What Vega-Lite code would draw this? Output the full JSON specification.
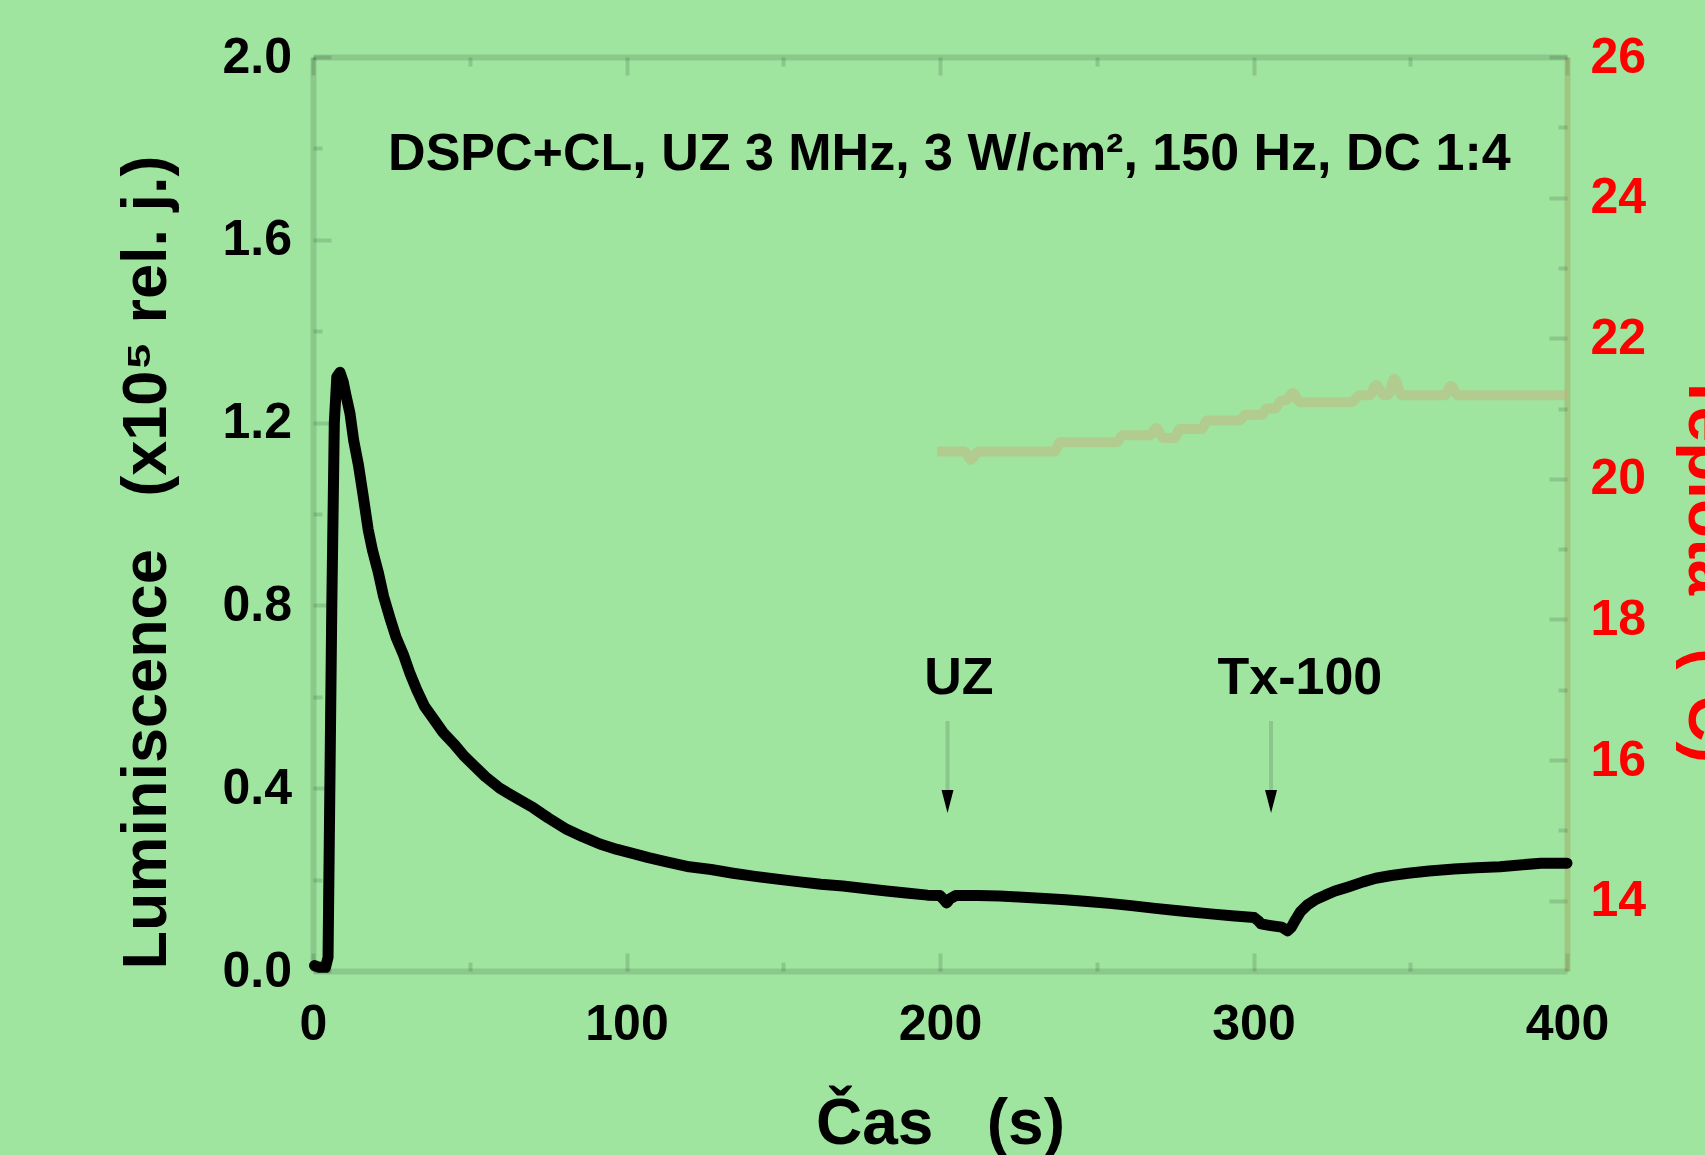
{
  "$schema": "https://vega.github.io/schema/vega-lite/v6.json",
  "autosize": "none",
  "width": 1254,
  "height": 914,
  "padding": {"left": 313, "top": 57, "right": 138, "bottom": 184},
  "background": "#9fe59f",
  "config": {
    "view": {"stroke": null},
    "font": "Liberation Sans",
    "axis": {
      "grid": false,
      "labelFont": "Liberation Sans",
      "labelFontWeight": "bold",
      "labelFontSize": 50,
      "labelColor": "#000000",
      "labelFlush": false,
      "labelOverlap": false,
      "titleFont": "Liberation Sans",
      "titleFontWeight": "bold",
      "titleFontSize": 63,
      "titleColor": "#000000",
      "domainColor": "#000000",
      "domainOpacity": 0.12,
      "domainWidth": 6,
      "tickColor": "#000000",
      "tickOpacity": 0.13,
      "tickWidth": 4
    }
  },
  "datasets": {
    "lum": [
      {"t": 0.5, "v": 0.012}, {"t": 2, "v": 0.008}, {"t": 4, "v": 0.008}, {"t": 4.8, "v": 0.03},
      {"t": 5.3, "v": 0.35}, {"t": 6.0, "v": 0.8}, {"t": 6.8, "v": 1.2}, {"t": 7.6, "v": 1.3},
      {"t": 8.6, "v": 1.31}, {"t": 9.6, "v": 1.29}, {"t": 10.5, "v": 1.26}, {"t": 11.8, "v": 1.22},
      {"t": 13, "v": 1.16}, {"t": 14.5, "v": 1.107}, {"t": 16, "v": 1.04}, {"t": 17.6, "v": 0.966},
      {"t": 19, "v": 0.92}, {"t": 20.8, "v": 0.873}, {"t": 22.5, "v": 0.82}, {"t": 24.6, "v": 0.771},
      {"t": 26.5, "v": 0.73}, {"t": 28.8, "v": 0.693}, {"t": 31, "v": 0.65}, {"t": 33.1, "v": 0.615},
      {"t": 35.5, "v": 0.58}, {"t": 38.4, "v": 0.552}, {"t": 41.5, "v": 0.522}, {"t": 44.8, "v": 0.498},
      {"t": 48, "v": 0.472}, {"t": 51.1, "v": 0.451}, {"t": 55, "v": 0.425}, {"t": 59.6, "v": 0.4},
      {"t": 65, "v": 0.378}, {"t": 70.3, "v": 0.357}, {"t": 75, "v": 0.335}, {"t": 80.9, "v": 0.31},
      {"t": 86, "v": 0.294}, {"t": 91.5, "v": 0.278}, {"t": 97, "v": 0.266}, {"t": 102.2, "v": 0.257},
      {"t": 107, "v": 0.248}, {"t": 112.8, "v": 0.239}, {"t": 120, "v": 0.228}, {"t": 127, "v": 0.222},
      {"t": 134, "v": 0.214}, {"t": 141, "v": 0.207}, {"t": 148, "v": 0.201}, {"t": 155.3, "v": 0.195},
      {"t": 162, "v": 0.19}, {"t": 169, "v": 0.186}, {"t": 176.6, "v": 0.18}, {"t": 183, "v": 0.175},
      {"t": 190, "v": 0.17}, {"t": 196, "v": 0.166}, {"t": 200, "v": 0.165}, {"t": 201, "v": 0.158},
      {"t": 202.1, "v": 0.149}, {"t": 203.2, "v": 0.158}, {"t": 205, "v": 0.165}, {"t": 212, "v": 0.165},
      {"t": 219, "v": 0.164}, {"t": 225, "v": 0.162}, {"t": 232, "v": 0.159}, {"t": 240, "v": 0.156},
      {"t": 247, "v": 0.152}, {"t": 254, "v": 0.148}, {"t": 261, "v": 0.143}, {"t": 268.7, "v": 0.137},
      {"t": 276, "v": 0.132}, {"t": 286.3, "v": 0.125}, {"t": 293, "v": 0.121}, {"t": 300.2, "v": 0.117},
      {"t": 301.5, "v": 0.11}, {"t": 302.4, "v": 0.103}, {"t": 305, "v": 0.1}, {"t": 309, "v": 0.096},
      {"t": 310.9, "v": 0.088}, {"t": 312, "v": 0.095}, {"t": 313.4, "v": 0.112}, {"t": 315, "v": 0.13},
      {"t": 317.1, "v": 0.144}, {"t": 320, "v": 0.157}, {"t": 322.9, "v": 0.166}, {"t": 326, "v": 0.175},
      {"t": 330.2, "v": 0.184}, {"t": 335, "v": 0.195}, {"t": 339, "v": 0.203}, {"t": 344, "v": 0.209},
      {"t": 349.3, "v": 0.214}, {"t": 356, "v": 0.219}, {"t": 364, "v": 0.223}, {"t": 371, "v": 0.226},
      {"t": 378.6, "v": 0.228}, {"t": 385, "v": 0.232}, {"t": 391.7, "v": 0.236}, {"t": 400, "v": 0.236}
    ],
    "temp": [
      {"t": 199.1, "c": 20.39}, {"t": 207.8, "c": 20.39}, {"t": 209.9, "c": 20.27}, {"t": 212.2, "c": 20.39},
      {"t": 236.5, "c": 20.39}, {"t": 238.3, "c": 20.52}, {"t": 256.5, "c": 20.52}, {"t": 258.2, "c": 20.62},
      {"t": 267, "c": 20.62}, {"t": 269, "c": 20.72}, {"t": 271.3, "c": 20.58}, {"t": 274.8, "c": 20.58},
      {"t": 276.5, "c": 20.71}, {"t": 283.5, "c": 20.71}, {"t": 285.2, "c": 20.83}, {"t": 295.7, "c": 20.83},
      {"t": 297.4, "c": 20.91}, {"t": 302.6, "c": 20.91}, {"t": 304.3, "c": 21.0}, {"t": 306.9, "c": 21.0},
      {"t": 308.7, "c": 21.11}, {"t": 310.5, "c": 21.12}, {"t": 312.5, "c": 21.22}, {"t": 314.8, "c": 21.09},
      {"t": 331.3, "c": 21.09}, {"t": 333.9, "c": 21.19}, {"t": 337, "c": 21.19}, {"t": 339.1, "c": 21.33},
      {"t": 341.7, "c": 21.19}, {"t": 343, "c": 21.2}, {"t": 344.9, "c": 21.42}, {"t": 347.3, "c": 21.19},
      {"t": 360.9, "c": 21.19}, {"t": 363, "c": 21.32}, {"t": 365.2, "c": 21.19}, {"t": 400, "c": 21.19}
    ],
    "notes": [
      {"t": 203, "v": 1.752, "label": "DSPC+CL, UZ 3 MHz, 3 W/cm², 150 Hz, DC 1:4"},
      {"t": 206, "v": 0.606, "label": "UZ"},
      {"t": 314.8, "v": 0.606, "label": "Tx-100"}
    ],
    "arrows": [
      {"t": 202.4, "v_top": 0.547, "v_bottom": 0.396, "v_head": 0.371},
      {"t": 305.6, "v_top": 0.547, "v_bottom": 0.396, "v_head": 0.371}
    ]
  },
  "resolve": {
    "scale": {"y": "independent"},
    "axis": {"x": "independent", "y": "independent"}
  },
  "layer": [
    {
      "data": {"name": "temp"},
      "mark": {"type": "line", "color": "#c4b47e", "opacity": 0.5, "strokeWidth": 10, "strokeCap": "butt", "strokeJoin": "round", "interpolate": "monotone"},
      "encoding": {
        "x": {"field": "t", "type": "quantitative", "scale": {"domain": [0, 400], "nice": false},
          "axis": {"orient": "top", "values": [0, 100, 200, 300, 400], "tickSize": -18, "labels": false, "title": null}},
        "y": {"field": "c", "type": "quantitative", "scale": {"domain": [13, 26], "nice": false, "zero": false},
          "axis": {"orient": "right", "values": [14, 16, 18, 20, 22, 24, 26], "format": "d", "tickSize": -18,
            "labelPadding": 41, "labelColor": "#ff0000", "labelAlign": "left",
            "domainColor": "#a08040", "domainOpacity": 0.3,
            "title": "Teplota\u00a0\u00a0\u00a0(°C)", "titleColor": "#ff0000", "titleFontSize": 64, "titleAngle": 90,
            "titleX": 121, "titleY": 510, "titleAlign": "center", "titleBaseline": "alphabetic"}}
      }
    },
    {
      "data": {"name": "temp"},
      "mark": {"type": "line", "opacity": 0},
      "encoding": {
        "x": {"field": "t", "type": "quantitative", "scale": {"domain": [0, 400], "nice": false},
          "axis": {"orient": "top", "values": [50, 150, 250, 350], "tickSize": -9, "labels": false, "domain": false, "title": null}},
        "y": {"field": "c", "type": "quantitative", "scale": {"domain": [13, 26], "nice": false, "zero": false},
          "axis": {"orient": "right", "values": [15, 17, 19, 21, 23, 25], "tickSize": -9, "labels": false, "domain": false, "title": null}}
      }
    },
    {
      "data": {"name": "lum"},
      "mark": {"type": "line", "color": "#000000", "strokeWidth": 11, "strokeCap": "round", "strokeJoin": "round"},
      "encoding": {
        "x": {"field": "t", "type": "quantitative", "scale": {"domain": [0, 400], "nice": false},
          "axis": {"orient": "bottom", "values": [0, 100, 200, 300, 400], "tickSize": -18, "labelPadding": 46,
            "title": "Čas\u00a0\u00a0\u00a0(s)", "titleFontSize": 64, "titleX": 627, "titleY": 172, "titleAlign": "center", "titleBaseline": "alphabetic"}},
        "y": {"field": "v", "type": "quantitative", "scale": {"domain": [0, 2], "nice": false},
          "axis": {"orient": "left", "values": [0, 0.4, 0.8, 1.2, 1.6, 2.0], "format": ".1f", "tickSize": -18, "labelPadding": 39.5,
            "title": "Luminiscence\u00a0\u00a0\u00a0(x10⁵ rel. j.)", "titleAngle": -90, "titleX": -148, "titleY": 505,
            "titleAlign": "center", "titleBaseline": "alphabetic"}}
      }
    },
    {
      "data": {"name": "notes"},
      "mark": {"type": "text", "font": "Liberation Sans", "fontWeight": "bold", "fontSize": 52, "align": "center", "baseline": "alphabetic", "color": "#000000"},
      "encoding": {
        "x": {"field": "t", "type": "quantitative", "scale": {"domain": [0, 400], "nice": false},
          "axis": {"orient": "bottom", "values": [50, 150, 250, 350], "tickSize": -9, "labels": false, "domain": false, "title": null}},
        "y": {"field": "v", "type": "quantitative", "scale": {"domain": [0, 2], "nice": false},
          "axis": {"orient": "left", "values": [0.2, 0.6, 1.0, 1.4, 1.8], "tickSize": -9, "labels": false, "domain": false, "title": null}},
        "text": {"field": "label", "type": "nominal"}
      }
    },
    {
      "data": {"name": "arrows"},
      "mark": {"type": "rule", "color": "#000000", "opacity": 0.13, "strokeWidth": 4},
      "encoding": {
        "x": {"field": "t", "type": "quantitative", "scale": {"domain": [0, 400], "nice": false}, "axis": null},
        "y": {"field": "v_top", "type": "quantitative", "scale": {"domain": [0, 2], "nice": false}, "axis": null},
        "y2": {"field": "v_bottom"}
      }
    },
    {
      "data": {"name": "arrows"},
      "mark": {"type": "point", "shape": "M -0.52 -1 L 0.52 -1 L 0 1 Z", "filled": true, "color": "#000000", "opacity": 1, "size": 529, "strokeWidth": 0},
      "encoding": {
        "x": {"field": "t", "type": "quantitative", "scale": {"domain": [0, 400], "nice": false}, "axis": null},
        "y": {"field": "v_head", "type": "quantitative", "scale": {"domain": [0, 2], "nice": false}, "axis": null}
      }
    }
  ]
}
